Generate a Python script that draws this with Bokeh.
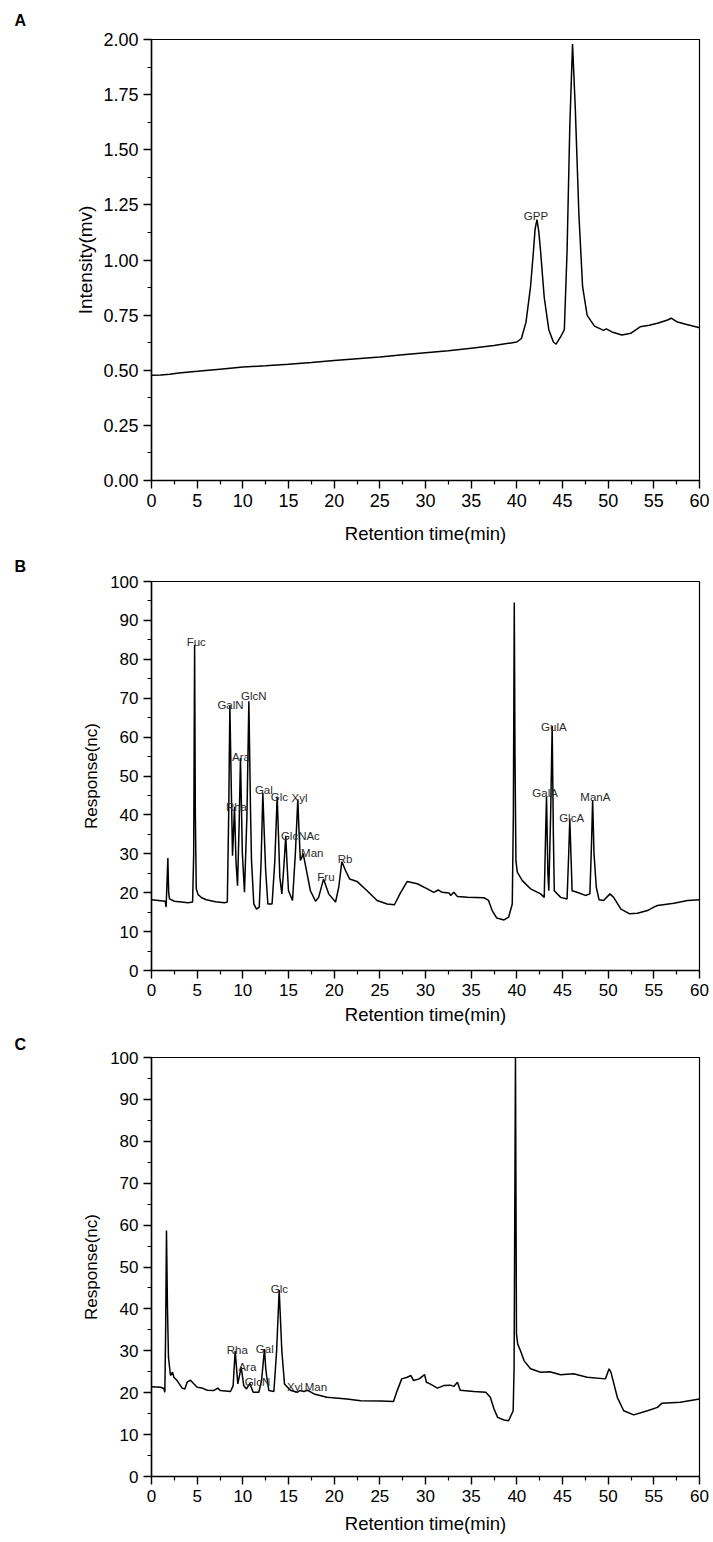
from bokeh.plotting import figure
from bokeh.models import Range1d, FixedTicker, ColumnDataSource, NumeralTickFormatter
from bokeh.layouts import column
from bokeh.core.properties import value
from bokeh.embed import file_html
from bokeh.resources import INLINE

# ---------------- data ----------------
# Panel A: GPP chromatogram (Intensity, mv)
tA = [0, 1, 2, 3, 5, 7.5, 10, 12.5, 15, 17.5, 20, 22.5, 25, 27.5, 30, 32.5, 35, 37.5,
      40, 40.5, 41, 41.5, 41.8, 42.0, 42.2, 42.4, 42.6, 43, 43.5, 44, 44.3, 44.8, 45.2,
      45.5, 45.8, 46.1, 46.4, 46.8, 47.2, 47.7, 48.5, 49.5, 49.8, 50.5, 51.5, 52.5,
      53.5, 54.5, 55.5, 56.5, 56.9, 57.5, 58.5, 60]
vA = [0.477, 0.478, 0.482, 0.488, 0.495, 0.505, 0.515, 0.520, 0.527, 0.535, 0.544, 0.552,
      0.560, 0.570, 0.579, 0.588, 0.600, 0.612, 0.628, 0.644, 0.717, 0.879, 1.030, 1.140,
      1.183, 1.130, 1.040, 0.830, 0.684, 0.628, 0.618, 0.652, 0.684, 1.040, 1.607, 1.979,
      1.688, 1.202, 0.879, 0.749, 0.700, 0.681, 0.688, 0.672, 0.660, 0.668, 0.697, 0.704,
      0.714, 0.728, 0.736, 0.720, 0.709, 0.693]
namesA = ["GPP"]
labA_t = [42.1]
labA_v = [1.20]

# Panel B: standard monosaccharides (Response, nc)
tB = [0, 1.5, 1.6, 1.72, 1.79, 1.88, 1.97, 2.5, 4.0, 4.5, 4.62, 4.72, 4.8, 4.9, 5.1, 5.5,
      6.0, 7.0, 8.0, 8.3, 8.45, 8.58, 8.75, 8.87, 9.09, 9.25, 9.42, 9.6, 9.74, 9.95, 10.18,
      10.45, 10.66, 10.85, 10.95, 11.2, 11.5, 11.8, 12.0, 12.19, 12.35, 12.5, 12.74, 13.2,
      13.5, 13.76, 13.9, 14.05, 14.27, 14.5, 14.7, 14.85, 15.0, 15.44, 15.75, 16.02, 16.15,
      16.3, 16.45, 16.6, 16.9, 17.4, 17.96, 18.3, 18.83, 19.4, 20.15, 20.5, 20.84, 21.24,
      21.7, 22.5, 23.6, 24.7, 25.8, 26.6, 27.2, 28.0, 29.1, 30.2, 30.9, 31.4, 31.8, 32.6,
      32.75, 33.1, 33.5, 34.6, 36.4, 36.9, 37.3, 37.8, 38.6, 39.1, 39.5, 39.62, 39.72, 39.8,
      39.9, 40.05, 40.6, 41.5, 42.6, 43.0, 43.15, 43.25, 43.4, 43.5, 43.7, 43.87, 44.0, 44.1,
      44.8, 45.5, 45.68, 45.8, 45.95, 46.05, 46.6, 47.5, 48.0, 48.17, 48.3, 48.45, 48.7,
      49.0, 49.5, 50.2, 50.6, 51.4, 52.3, 53.2, 54.3, 55.0, 55.4, 57.2, 58.7, 60]
vB = [18.2, 17.8, 16.3, 24.0, 28.9, 20.0, 18.4, 17.8, 17.4, 17.6, 30.0, 83.7, 40.0, 21.0,
      19.5, 18.7, 18.2, 17.7, 17.4, 17.6, 40.0, 68.1, 45.0, 29.5, 42.1, 28.0, 21.8, 38.0,
      54.6, 30.0, 20.1, 40.0, 69.2, 40.0, 28.3, 17.1, 15.8, 16.3, 28.0, 45.6, 35.0, 25.7,
      17.1, 17.1, 28.0, 44.7, 35.0, 24.0, 19.7, 27.0, 34.6, 27.0, 20.5, 18.0, 30.0, 44.0,
      36.0, 28.3, 29.0, 30.1, 26.5, 20.5, 17.8, 18.8, 23.5, 19.7, 17.6, 21.4, 28.0, 25.7,
      23.5, 22.9, 20.5, 18.0, 17.1, 16.9, 19.7, 22.9, 22.3, 21.0, 20.1, 20.7, 20.1, 19.9,
      19.3, 20.1, 19.0, 18.8, 18.7, 18.0, 15.4, 13.5, 13.0, 13.7, 17.1, 40.0, 94.6, 55.0,
      28.3, 25.3, 23.1, 21.0, 19.7, 18.8, 35.0, 44.7, 25.0, 20.5, 40.0, 62.9, 35.0, 20.5,
      18.8, 18.4, 30.0, 39.0, 28.0, 20.5, 20.1, 19.3, 19.7, 32.0, 43.8, 30.0, 21.4, 18.2,
      18.0, 19.7, 18.8, 15.8, 14.6, 14.7, 15.4, 16.3, 16.7, 17.3, 18.0, 18.2]
namesB = ["Fuc", "GalN", "GlcN", "Ara", "Rha", "Gal", "Glc", "Xyl", "GlcNAc", "Man", "Fru",
          "Rb", "GulA", "GalA", "ManA", "GlcA"]
labB_t = [4.9, 8.65, 11.2, 9.8, 9.3, 12.3, 14.0, 16.2, 16.3, 17.6, 19.1, 21.2, 44.05, 43.1,
          48.6, 46.0]
labB_v = [84.5, 68.3, 70.5, 55.0, 42.1, 46.4, 44.7, 44.3, 34.6, 30.3, 24.1, 28.7, 62.5,
          45.6, 44.7, 39.2]

# Panel C: GPP hydrolysate (Response, nc)
tC = [0, 1.0, 1.35, 1.46, 1.55, 1.64, 1.75, 1.86, 2.08, 2.3, 2.45, 2.8, 3.36, 3.65, 3.9,
      4.27, 4.6, 5.0, 5.55, 6.1, 6.8, 7.26, 7.55, 8.65, 8.94, 9.16, 9.45, 9.82, 10.1, 10.4,
      10.77, 11.13, 11.75, 12.05, 12.37, 12.5, 12.6, 12.85, 13.4, 13.7, 13.98, 14.27, 14.56,
      15.2, 15.95, 16.24, 16.7, 17.04, 17.8, 19.2, 21.4, 22.9, 25.1, 26.5, 26.9, 27.4, 28.0,
      28.4, 28.7, 29.3, 29.9, 30.1, 30.5, 31.3, 32.0, 32.7, 33.1, 33.5, 33.8, 35.3, 36.6,
      37.1, 37.5, 37.9, 38.6, 39.1, 39.6, 39.7, 39.85, 39.96, 40.1, 40.4, 40.8, 41.5, 42.6,
      43.6, 44.8, 46.2, 47.7, 49.7, 50.1, 50.3, 51.0, 51.7, 52.8, 54.3, 55.4, 55.9, 57.9, 60]
vC = [21.4, 21.3, 21.0, 20.1, 35.0, 58.7, 40.0, 28.4, 24.1, 24.9, 23.7, 22.9, 21.1, 20.9,
      22.5, 23.0, 22.2, 21.3, 21.1, 20.6, 20.5, 21.1, 20.5, 20.3, 21.7, 30.0, 22.1, 26.1,
      21.7, 20.9, 22.2, 20.1, 20.1, 22.9, 30.4, 26.0, 24.1, 20.5, 20.3, 30.0, 44.5, 30.0,
      22.1, 20.6, 20.1, 20.5, 20.3, 20.6, 19.7, 18.9, 18.5, 18.1, 18.0, 17.9, 20.5, 23.3,
      23.7, 24.1, 22.9, 23.3, 24.3, 22.5, 22.1, 21.1, 21.7, 21.8, 21.5, 22.5, 20.6, 20.3,
      20.1, 18.9, 16.1, 14.1, 13.5, 13.3, 15.7, 26.0, 100.0, 34.0, 31.6, 30.0, 27.6, 25.7,
      24.9, 25.0, 24.3, 24.5, 23.7, 23.3, 25.7, 24.9, 18.9, 15.7, 14.7, 15.7, 16.5, 17.5,
      17.7, 18.5]
namesC = ["Rha", "Ara", "GlcN", "Gal", "Glc", "Xyl", "Man"]
labC_t = [9.4, 10.5, 11.6, 12.4, 14.0, 15.7, 18.0]
labC_v = [30.2, 26.2, 22.5, 30.4, 44.8, 21.3, 21.3]

x_major = [0, 5, 10, 15, 20, 25, 30, 35, 40, 45, 50, 55, 60]
x_minor = [2.5, 7.5, 12.5, 17.5, 22.5, 27.5, 32.5, 37.5, 42.5, 47.5, 52.5, 57.5]
yA_major = [0, 0.25, 0.5, 0.75, 1.0, 1.25, 1.5, 1.75, 2.0]
yA_minor = [0.125, 0.375, 0.625, 0.875, 1.125, 1.375, 1.625, 1.875]
yN_major = [0, 10, 20, 30, 40, 50, 60, 70, 80, 90, 100]
yN_minor = [5, 15, 25, 35, 45, 55, 65, 75, 85, 95]

FONT = "Liberation Sans"


def make_panel(height, b_top, b_bottom, y_end, y_major, y_minor, y_title, t, v,
               names, lt, lv, letter, letter_standoff, tick_size, ytitle_size,
               ytitle_standoff, xtitle_standoff, fmt=None):
    p = figure(width=713, height=height, x_range=Range1d(0, 60), y_range=Range1d(0, y_end),
               output_backend="svg", toolbar_location=None,
               min_border_left=151, min_border_right=14,
               min_border_top=b_top, min_border_bottom=b_bottom)
    p.grid.visible = False
    p.outline_line_color = "black"
    p.outline_line_width = 1.2
    p.outline_line_alpha = 1.0
    p.title.text = letter
    p.title.align = "left"
    p.title.offset = -137
    p.title.standoff = letter_standoff
    p.title.vertical_align = "top"
    p.title.text_font = FONT
    p.title.text_font_size = "16px"
    p.title.text_font_style = "bold"
    p.title.text_color = "black"
    p.xaxis.ticker = FixedTicker(ticks=x_major, minor_ticks=x_minor)
    p.yaxis.ticker = FixedTicker(ticks=y_major, minor_ticks=y_minor)
    if fmt:
        p.yaxis.formatter = NumeralTickFormatter(format=fmt)
    for ax in (p.xaxis, p.yaxis):
        ax.axis_line_width = 1.5
        ax.axis_line_color = "black"
        ax.major_tick_line_width = 1.4
        ax.minor_tick_line_width = 1.2
        ax.major_tick_line_color = "black"
        ax.minor_tick_line_color = "black"
        ax.major_tick_in = 0
        ax.major_tick_out = 8
        ax.minor_tick_in = 0
        ax.minor_tick_out = 4
        ax.major_label_text_font = FONT
        ax.major_label_text_font_size = tick_size
        ax.major_label_text_color = "black"
        ax.major_label_standoff = 5
        ax.axis_label_text_font = FONT
        ax.axis_label_text_font_style = "normal"
        ax.axis_label_text_color = "black"
    p.xaxis.axis_label = "Retention time(min)"
    p.xaxis.axis_label_text_font_size = "18.5px"
    p.xaxis.axis_label_standoff = xtitle_standoff
    p.yaxis.axis_label = y_title
    p.yaxis.axis_label_text_font_size = ytitle_size
    p.yaxis.axis_label_standoff = ytitle_standoff

    p.line(t, v, line_color="black", line_width=1.5)
    src = ColumnDataSource(dict(x=lt, y=lv, name=names))
    p.text(x="x", y="y", text="name", source=src, text_align="center",
           text_baseline="alphabetic", text_font=value(FONT), text_font_size="11.5px",
           text_color="#2a2a2a")
    return p


pA = make_panel(550, 39, 70, 2.0, yA_major, yA_minor, "Intensity(mv)", tA, vA,
                namesA, labA_t, labA_v, "A", 17, "18px", "19px", 4, 13, fmt="0.00")
pB = make_panel(479, 31, 59, 100, yN_major, yN_minor, "Response(nc)", tB, vB,
                namesB, labB_t, labB_v, "B", 9, "17px", "17px", 6, 5)
pC = make_panel(513, 28, 66, 100, yN_major, yN_minor, "Response(nc)", tC, vC,
                namesC, labC_t, labC_v, "C", 6, "17px", "17px", 6, 8)

layout = column(pA, pB, pC)
open("out.html", "w").write(file_html(layout, INLINE))
